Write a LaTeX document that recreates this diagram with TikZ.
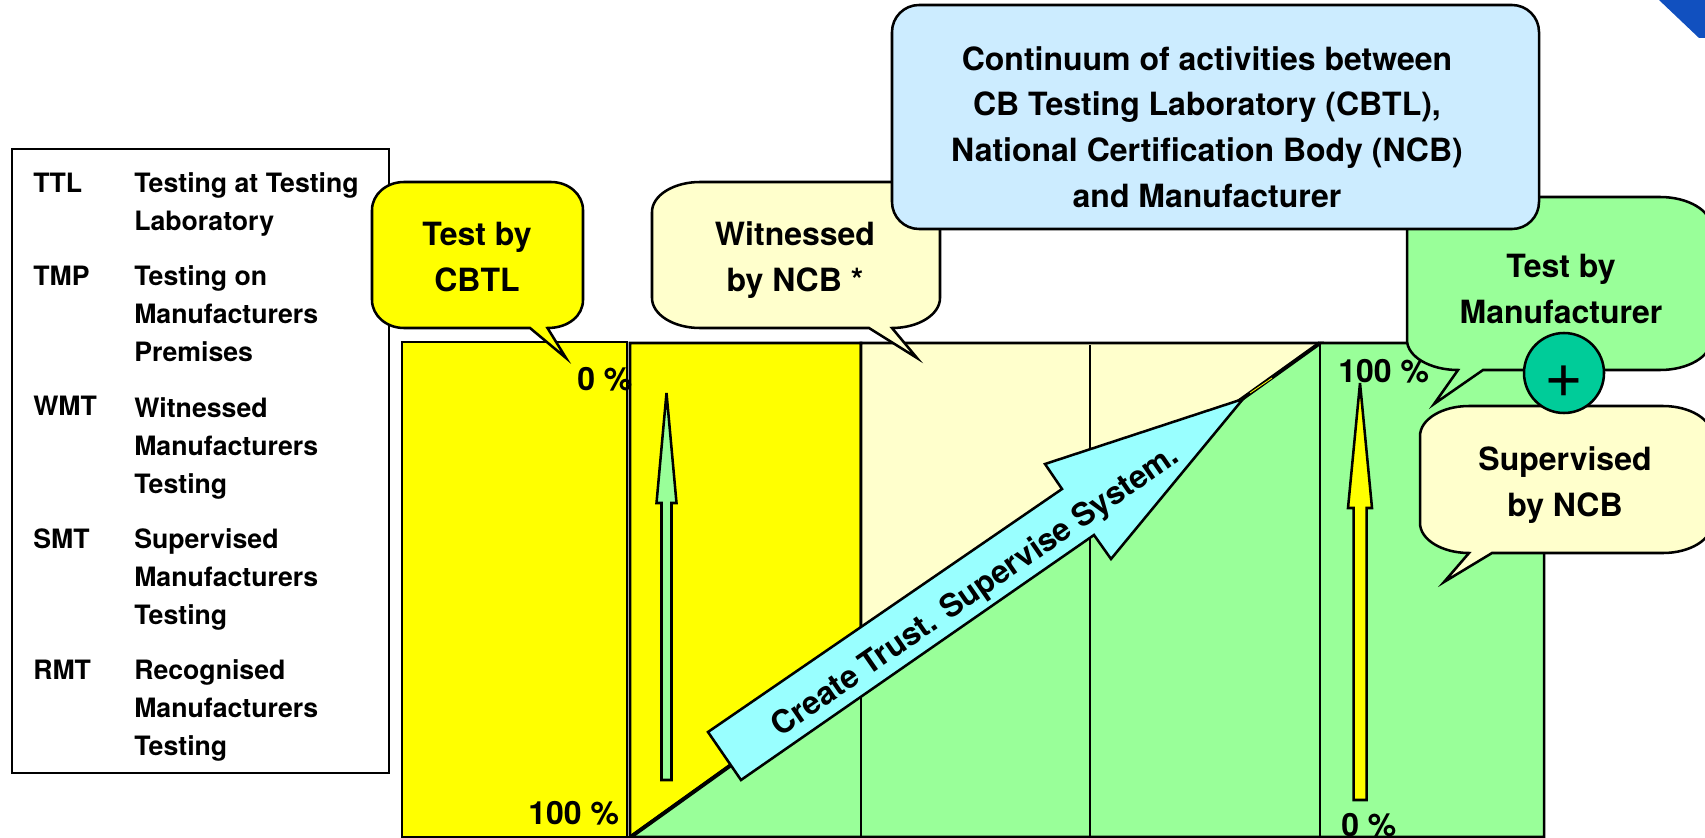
\documentclass[tikz,border=0pt]{standalone}
\usepackage{fontspec}
\setmainfont{TeX Gyre Heros}
\definecolor{cellyellow}{RGB}{255,255,0}
\definecolor{cellcream}{RGB}{255,255,204}
\definecolor{cellgreen}{RGB}{153,255,153}
\definecolor{arrowcyan}{RGB}{153,255,255}
\definecolor{boxblue}{RGB}{204,236,255}
\definecolor{plusteal}{RGB}{0,204,153}
\definecolor{cornerblue}{RGB}{17,80,191}
\tikzset{every picture/.style={line width=1.9pt}}
\tikzset{
  legendtext/.style={anchor=base west,inner sep=0pt,align=left,font=\fontsize{20}{28.5}\selectfont\bfseries},
  calltext/.style={anchor=base,inner sep=0pt,align=center,font=\fontsize{24}{34.2}\selectfont\bfseries},
  pcttext/.style={anchor=base west,inner sep=0pt,font=\fontsize{24}{28}\selectfont\bfseries},
  callout/.style={draw=black,line width=1.9pt,line join=miter}
}

\begin{document}
\begin{tikzpicture}[x=0.75pt,y=0.75pt,yscale=-1,xscale=1]
\useasboundingbox (0,0) rectangle (1705,838);
\clip (0,0) rectangle (1705,838);

%Shape: Corner
\fill [cornerblue] (1659,0) -- (1699,38) -- (1705,38) -- (1705,0) -- cycle ;

%Shape: Legend
\draw [fill=white] (12,149) rectangle (389,773) ;

%Shape: Yellow cells
\draw [fill=cellyellow] (402,342) rectangle (627,837) ;
\draw [fill=cellyellow] (630,343) -- (861,343) -- (861,672) -- (630,837) -- cycle ;
%Shape: Cream cells
\draw [fill=cellcream] (861,343) -- (1320,343) -- (861,672) -- cycle ;
%Shape: Green cells
\draw [fill=cellgreen] (630,837) -- (1320,343) -- (1544,343) -- (1544,837) -- cycle ;
%Straight Lines
\draw    (861,345) -- (861,837) ;
\draw    (1090,345) -- (1090,837) ;
\draw    (1320,343) -- (1320,837) ;
%Straight Lines
\draw [line width=3pt]   (632,836) -- (1320,343) ;
\draw [color=cellyellow,line width=0.6pt]   (1250,393) -- (1272,378) ;

%Shape: Up arrow green
\draw [fill=cellgreen] (666.5,393) -- (676.5,503) -- (671.5,503) -- (671.5,780) -- (661.5,780) -- (661.5,503) -- (656.5,503) -- cycle ;
%Shape: Up arrow yellow
\draw [fill=cellyellow] (1360,383) -- (1372,508) -- (1366.5,508) -- (1366.5,800) -- (1353.5,800) -- (1353.5,508) -- (1348,508) -- cycle ;

%Shape: Slanted arrow
\draw [fill=arrowcyan,line join=miter] (708,732) -- (1062,489) -- (1045,464) -- (1243,399) -- (1111,559) -- (1094,535) -- (741,780) -- cycle ;

% Text Node
\draw (976,592) node (trust) [rotate=34.7,inner sep=0pt,font=\fontsize{23.8}{28}\selectfont\bfseries]  {Create Trust. Supervise System.};

% Text Node
\draw (576,390) node (pcttop) [pcttext]  {0 \%};
% Text Node
\draw (527,824) node (pctbottom) [pcttext]  {100 \%};
% Text Node
\draw (1337,382) node (mantop) [pcttext]  {100 \%};
% Text Node
\draw (1340,836) node (manbottom) [pcttext]  {0 \%};
%Straight Lines
\draw    (402,837) -- (1544,837) ;

%Shape: Callout CBTL
\draw [callout,fill=cellyellow] (372,210) .. controls (372,194.5) and (386.3,182) .. (404,182) -- (551,182) .. controls (568.7,182) and (583,194.5) .. (583,210) -- (583,300) .. controls (583,315.5) and (568.7,328) .. (547.5,328) -- (566,358) -- (530,328) -- (404,328) .. controls (386.3,328) and (372,315.5) .. (372,300) -- cycle ;
%Shape: Callout witnessed
\draw [callout,fill=cellcream] (652,212) .. controls (652,195.4) and (673.5,182) .. (700,182) -- (892,182) .. controls (918.5,182) and (940,195.4) .. (940,212) -- (940,298) .. controls (940,314.6) and (918.5,328) .. (892,328) -- (917,358) -- (869,328) -- (700,328) .. controls (673.5,328) and (652,314.6) .. (652,298) -- cycle ;
%Shape: Callout manufacturer
\draw [callout,fill=cellgreen] (1407,227) .. controls (1407,210.4) and (1430,197) .. (1458,197) -- (1660,197) .. controls (1688,197) and (1711,210.4) .. (1711,227) -- (1711,340) .. controls (1711,356.6) and (1688,370) .. (1660,370) -- (1483,370) -- (1434,404) -- (1458,370) .. controls (1430,370) and (1407,356.6) .. (1407,340) -- cycle ;
%Shape: Callout supervised
\draw [callout,fill=cellcream] (1420,436) .. controls (1420,419.4) and (1442,406) .. (1469,406) -- (1663,406) .. controls (1690,406) and (1712,419.4) .. (1712,436) -- (1712,523) .. controls (1712,539.6) and (1690,553) .. (1663,553) -- (1492,553) -- (1444,582) -- (1469,553) .. controls (1442,553) and (1420,539.6) .. (1420,523) -- cycle ;
%Shape: Circle
\draw [fill=plusteal] (1564,373) circle [radius=40] ;
%Shape: Blue box
\draw [callout,fill=boxblue] (892,32) .. controls (892,17.1) and (904.1,5) .. (919,5) -- (1512,5) .. controls (1526.9,5) and (1539,17.1) .. (1539,32) -- (1539,202) .. controls (1539,216.9) and (1526.9,229) .. (1512,229) -- (919,229) .. controls (904.1,229) and (892,216.9) .. (892,202) -- cycle ;

% Text Node
\draw (477,291) node (cbtl) [calltext]  {Test by\\CBTL};
% Text Node
\draw (795,291) node (ncb) [calltext]  {Witnessed\\by NCB *};
% Text Node
\draw (1561,323) node (manufacturer) [calltext]  {Test by\\Manufacturer};
% Text Node
\draw (1565,516) node (supervised) [calltext]  {Supervised\\by NCB};
% Text Node
\draw (1207,207) node (continuum) [calltext]  {Continuum of activities between\\CB Testing Laboratory (CBTL),\\National Certification Body (NCB)\\and Manufacturer};
% Text Node
\draw (1564,397) node (plus) [anchor=base,inner sep=0pt,font=\fontsize{50}{54}\selectfont]  {+};

% Text Node
\draw (32,192) node (ttl) [legendtext]  {TTL};
% Text Node
\draw (133,230) node (ttldesc) [legendtext]  {Testing at Testing\\Laboratory};
% Text Node
\draw (32,285) node (tmp) [legendtext]  {TMP};
% Text Node
\draw (133,361) node (tmpdesc) [legendtext]  {Testing on\\Manufacturers\\Premises};
% Text Node
\draw (32,415) node (wmt) [legendtext]  {WMT};
% Text Node
\draw (133,493) node (wmtdesc) [legendtext]  {Witnessed\\Manufacturers\\Testing};
% Text Node
\draw (32,548) node (smt) [legendtext]  {SMT};
% Text Node
\draw (133,624) node (smtdesc) [legendtext]  {Supervised\\Manufacturers\\Testing};
% Text Node
\draw (32,679) node (rmt) [legendtext]  {RMT};
% Text Node
\draw (133,755) node (rmtdesc) [legendtext]  {Recognised\\Manufacturers\\Testing};

\end{tikzpicture}
\end{document}
